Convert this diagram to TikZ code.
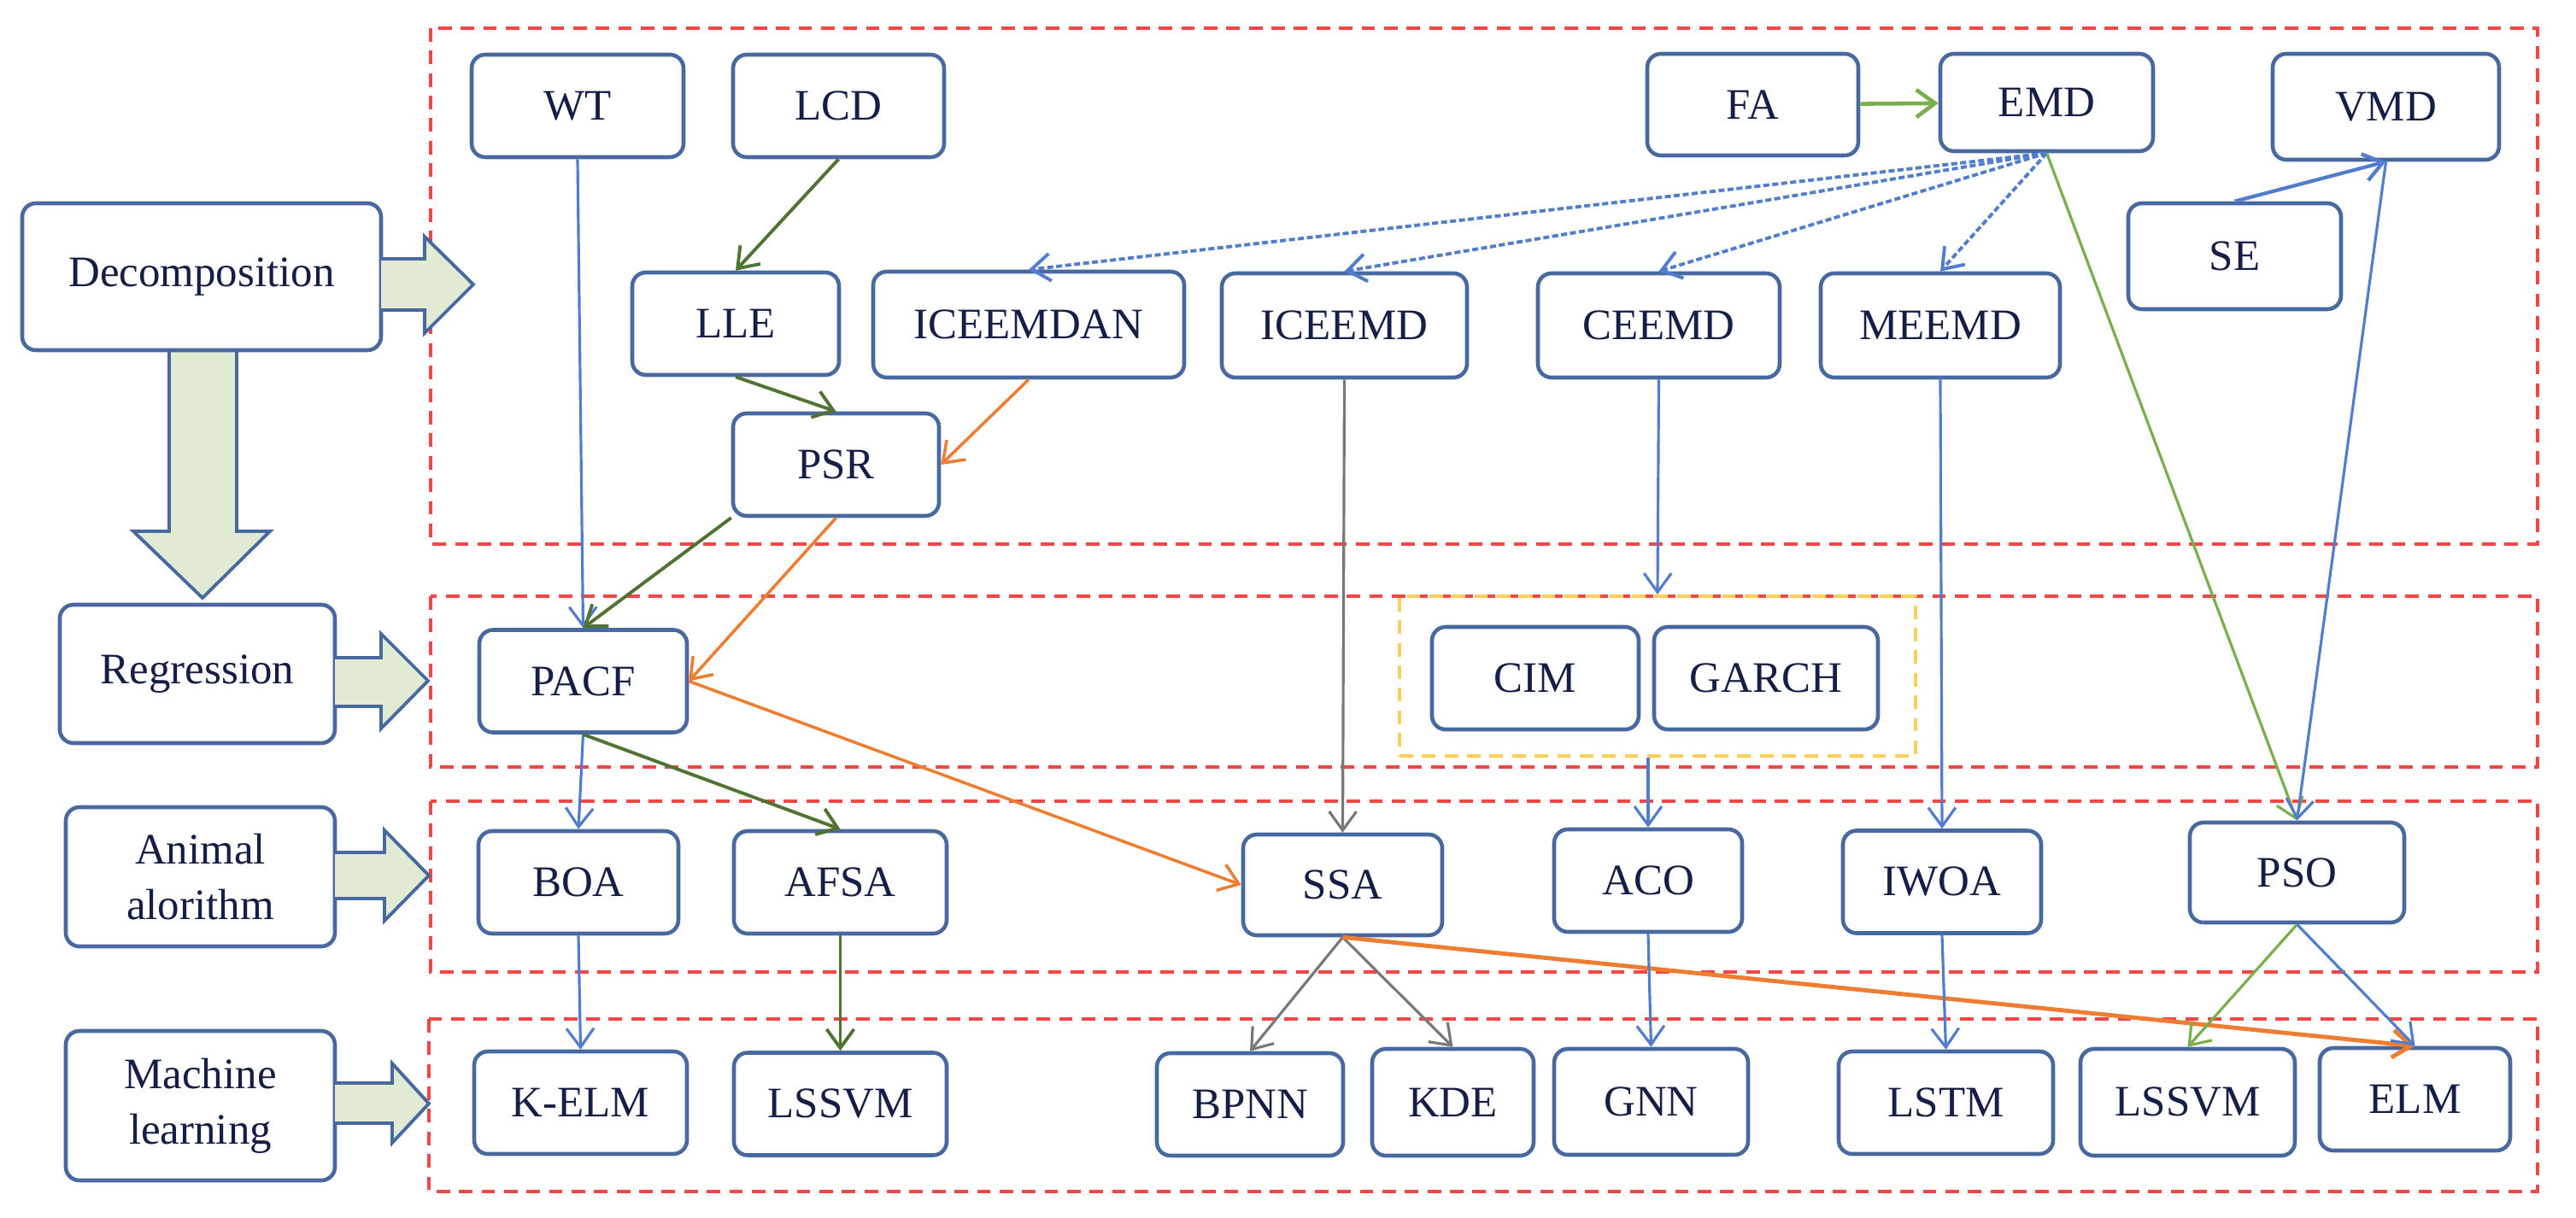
\documentclass[tikz,border=0pt]{standalone}
\usepackage{fontspec}
\setmainfont{Liberation Serif}
\usetikzlibrary{arrows.meta}

\definecolor{boxblue}{RGB}{72,104,160}
\definecolor{navytext}{RGB}{20,30,70}
\definecolor{redframe}{RGB}{240,70,70}
\definecolor{goldframe}{RGB}{255,205,90}
\definecolor{linkblue}{RGB}{80,125,205}
\definecolor{darkgreen}{RGB}{80,115,50}
\definecolor{limegreen}{RGB}{120,175,75}
\definecolor{linkorange}{RGB}{237,125,49}
\definecolor{linkgray}{RGB}{120,120,120}
\definecolor{palegreen}{RGB}{225,235,212}

\begin{document}
\begin{tikzpicture}[
	method/.style={draw=boxblue, line width=1.3pt, rounded corners=0.16cm, fill=white, text=navytext,
		font=\fontsize{14.5}{18.5}\selectfont, minimum height=1.2cm, inner sep=2pt},
	stage/.style={method, align=center},
	region/.style={draw=redframe, line width=1.2pt, dash pattern=on 4.5pt off 3pt},
	subregion/.style={draw=goldframe, line width=1.2pt, dash pattern=on 4.5pt off 3pt},
	fat/.style={draw=boxblue, line width=1.1pt, fill=palegreen},
	link/.style={-{Straight Barb[length=0.22cm,width=0.32cm]}, line width=0.9pt},
	bluelink/.style={link, draw=linkblue},
	greenlink/.style={link, draw=darkgreen, line width=1.1pt},
	limelink/.style={link, draw=limegreen},
	orangelink/.style={link, draw=linkorange, line width=1pt},
	graylink/.style={link, draw=linkgray},
	dashlink/.style={link, draw=linkblue, line width=1.1pt, dash pattern=on 2pt off 1pt}
]
	\useasboundingbox (0,0) rectangle (30.15,-14.26);

	\draw[region] (5.04,-0.33) rectangle (29.70,-6.37);
	\draw[region] (5.04,-6.98) rectangle (29.70,-8.98);
	\draw[region] (5.04,-9.38) rectangle (29.70,-11.38);
	\draw[region] (5.02,-11.93) rectangle (29.70,-13.95);
	\node[subregion, minimum width=6.04cm, minimum height=1.87cm] (garchgroup) at (19.40,-7.915) {};

	\draw[fat] (1.98,-4.00) -- (1.98,-6.22) -- (1.56,-6.22) -- (2.37,-7.00) -- (3.16,-6.22) -- (2.77,-6.22) -- (2.77,-4.00) -- cycle;

	\node[stage, minimum width=4.20cm, minimum height=1.72cm] (decomp) at (2.36,-3.24) {Decomposition};
	\node[stage, minimum width=3.22cm, minimum height=1.62cm] (regress) at (2.31,-7.89) {Regression};
	\node[stage, minimum width=3.15cm, minimum height=1.63cm] (animal) at (2.345,-10.265) {Animal\\alorithm};
	\node[stage, minimum width=3.15cm, minimum height=1.75cm] (machine) at (2.345,-12.945) {Machine\\learning};

	\draw[fat] (4.46,-3.03) -- (4.97,-3.03) -- (4.97,-2.77) -- (5.54,-3.33) -- (4.97,-3.90) -- (4.97,-3.63) -- (4.46,-3.63);
	\draw[fat] (3.92,-7.70) -- (4.46,-7.70) -- (4.46,-7.42) -- (5.01,-7.97) -- (4.46,-8.53) -- (4.46,-8.27) -- (3.92,-8.27);
	\draw[fat] (3.92,-9.98) -- (4.50,-9.98) -- (4.50,-9.72) -- (5.02,-10.25) -- (4.50,-10.78) -- (4.50,-10.52) -- (3.92,-10.52);
	\draw[fat] (3.92,-12.68) -- (4.59,-12.68) -- (4.59,-12.45) -- (5.02,-12.92) -- (4.59,-13.38) -- (4.59,-13.15) -- (3.92,-13.15);

	\node[method, minimum width=2.48cm] (wt) at (6.76,-1.24) {WT};
	\node[method, minimum width=2.47cm] (lcd) at (9.815,-1.24) {LCD};
	\node[method, minimum width=2.47cm, minimum height=1.19cm] (fa) at (20.515,-1.225) {FA};
	\node[method, minimum width=2.49cm, minimum height=1.14cm] (emd) at (23.955,-1.20) {EMD};
	\node[method, minimum width=2.65cm, minimum height=1.24cm] (vmd) at (27.925,-1.25) {VMD};
	\node[method, minimum width=2.49cm, minimum height=1.24cm] (se) at (26.155,-3.00) {SE};
	\node[method, minimum width=2.42cm] (lle) at (8.61,-3.79) {LLE};
	\node[method, minimum width=3.64cm, minimum height=1.24cm] (iceemdan) at (12.04,-3.80) {ICEEMDAN};
	\node[method, minimum width=2.87cm, minimum height=1.22cm] (iceemd) at (15.735,-3.81) {ICEEMD};
	\node[method, minimum width=2.83cm, minimum height=1.22cm] (ceemd) at (19.415,-3.81) {CEEMD};
	\node[method, minimum width=2.80cm, minimum height=1.22cm] (meemd) at (22.71,-3.81) {MEEMD};
	\node[method, minimum width=2.41cm] (psr) at (9.785,-5.44) {PSR};

	\node[method, minimum width=2.43cm] (pacf) at (6.825,-7.975) {PACF};
	\node[method, minimum width=2.42cm] (cim) at (17.97,-7.94) {CIM};
	\node[method, minimum width=2.62cm] (garch) at (20.67,-7.94) {GARCH};

	\node[method, minimum width=2.34cm] (boa) at (6.77,-10.33) {BOA};
	\node[method, minimum width=2.49cm] (afsa) at (9.835,-10.33) {AFSA};
	\node[method, minimum width=2.33cm, minimum height=1.18cm] (ssa) at (15.715,-10.36) {SSA};
	\node[method, minimum width=2.20cm] (aco) at (19.29,-10.31) {ACO};
	\node[method, minimum width=2.32cm] (iwoa) at (22.73,-10.325) {IWOA};
	\node[method, minimum width=2.51cm, minimum height=1.17cm] (pso) at (26.885,-10.215) {PSO};

	\node[method, minimum width=2.49cm] (kelm) at (6.795,-12.91) {K-ELM};
	\node[method, minimum width=2.49cm] (lssvma) at (9.835,-12.925) {LSSVM};
	\node[method, minimum width=2.18cm] (bpnn) at (14.63,-12.93) {BPNN};
	\node[method, minimum width=1.89cm, minimum height=1.25cm] (kde) at (17.005,-12.905) {KDE};
	\node[method, minimum width=2.27cm, minimum height=1.24cm] (gnn) at (19.325,-12.90) {GNN};
	\node[method, minimum width=2.51cm] (lstm) at (22.775,-12.91) {LSTM};
	\node[method, minimum width=2.51cm, minimum height=1.25cm] (lssvmb) at (25.605,-12.905) {LSSVM};
	\node[method, minimum width=2.23cm] (elm) at (28.265,-12.87) {ELM};

	\draw[limelink, line width=1.3pt] (fa) -- (emd);
	\draw[greenlink] (lcd.south) -- (lle.north);
	\draw[greenlink] (lle.south) -- (psr.north);
	\draw[orangelink] (iceemdan.south) -- (psr.east);
	\draw[bluelink] (wt.south) -- (pacf.north);
	\draw[greenlink] (psr.south west) -- (pacf.north);
	\draw[orangelink] (psr.south) -- (pacf.east);
	\draw[dashlink] (emd.south) -- (iceemdan.north);
	\draw[dashlink] (emd.south) -- (iceemd.north);
	\draw[dashlink] (emd.south) -- (ceemd.north);
	\draw[dashlink] (emd.south) -- (meemd.north);
	\draw[limelink] (emd.south) -- (pso.north);
	\draw[bluelink, line width=1.2pt] (se.north) -- (vmd.south);
	\draw[bluelink] (vmd.south) -- (pso.north);
	\draw[graylink] (iceemd.south) -- (ssa.north);
	\draw[bluelink] (ceemd.south) -- (garchgroup.north);
	\draw[bluelink] (aco.north |- garchgroup.south) -- (aco.north);
	\draw[bluelink] (meemd.south) -- (iwoa.north);
	\draw[bluelink] (pacf.south) -- (boa.north);
	\draw[greenlink] (pacf.south) -- (afsa.north);
	\draw[orangelink] (pacf.east) -- (ssa.west);
	\draw[bluelink] (boa.south) -- (kelm.north);
	\draw[greenlink] (afsa.south) -- (lssvma.north);
	\draw[graylink] (ssa.south) -- (bpnn.north);
	\draw[graylink] (ssa.south) -- (kde.north);
	\draw[orangelink, line width=1.4pt] (ssa.south) -- (elm.north);
	\draw[bluelink] (aco.south) -- (gnn.north);
	\draw[bluelink] (iwoa.south) -- (lstm.north);
	\draw[limelink] (pso.south) -- (lssvmb.north);
	\draw[bluelink] (pso.south) -- (elm.north);
\end{tikzpicture}
\end{document}
